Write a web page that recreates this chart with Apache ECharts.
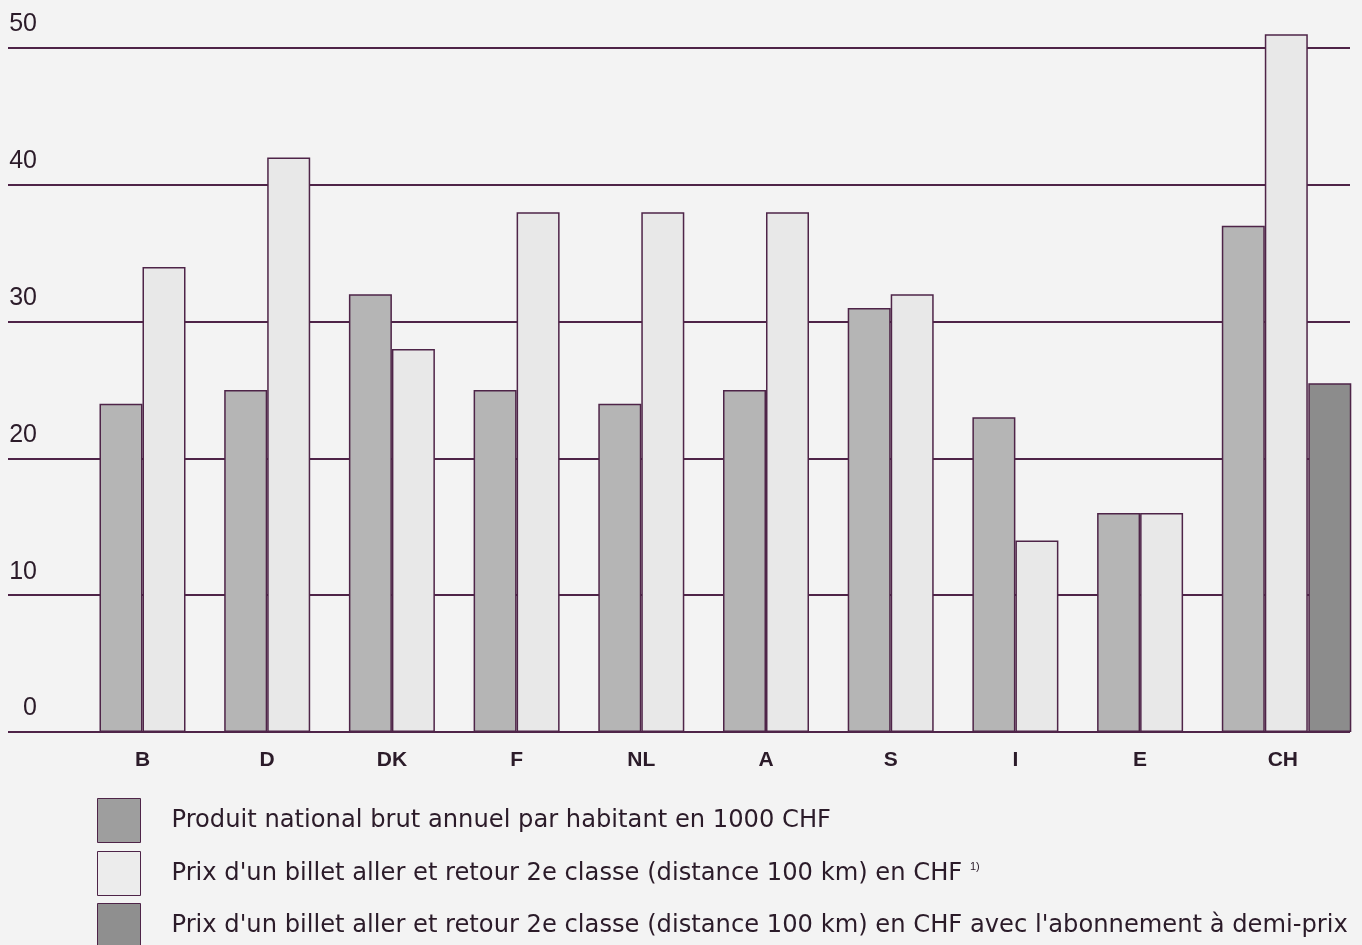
<!DOCTYPE html>
<html>
<head>
<meta charset="utf-8">
<script src="https://cdn.jsdelivr.net/npm/echarts@6/dist/echarts.min.js"></script>
<style>
  html, body { margin: 0; padding: 0; background: #f3f3f3; }
  #chart { width: 1362px; height: 945px; }
</style>
</head>
<body>
<div id="chart"></div>
<script>
// ---- data ----
var categories = ['B', 'D', 'DK', 'F', 'NL', 'A', 'S', 'I', 'E', 'CH'];
var gnpPerCapita = [24, 25, 32, 25, 24, 25, 31, 23, 16, 37];
var ticketPrice = [34, 42, 28, 38, 38, 38, 32, 14, 16, 51];
var halfFarePrice = [null, null, null, null, null, null, null, null, null, 25.5];
var emptySlot = [null, null, null, null, null, null, null, null, null, null];
var yMin = 0, yMax = 50, yStep = 10;
var seriesNames = [
  'Produit national brut annuel par habitant en 1000 CHF',
  "Prix d'un billet aller et retour 2e classe (distance 100 km) en CHF",
  "Prix d'un billet aller et retour 2e classe (distance 100 km) en CHF avec l'abonnement \u00e0 demi-prix"
];

var FONT = '"Liberation Sans", Arial, sans-serif';
var LEGEND_FONT = '"DejaVu Sans", "Liberation Sans", sans-serif';
var LINE = '#4e2448';
var TEXT = '#2b1b29';
var TOP = 48, BOTTOM = 213;
var BAND_LEFT = 80.15, BAND_W = 1247;
var BAR_W = 43;
var SHIFT = 65; // 3rd CH bar centre offset from category centre

var chart = echarts.init(document.getElementById('chart'), null, { renderer: 'canvas' });

var legendColors = ['#9e9e9e', '#ececec', '#8f8f8f'];
var legendTops = [798, 851, 903];
var legends = seriesNames.map(function (name, i) {
  return {
    orient: 'vertical', left: 97, top: legendTops[i], padding: 0,
    itemWidth: 43, itemHeight: 44, icon: 'rect',
    textStyle: {
      fontFamily: LEGEND_FONT, fontSize: 24.2, color: TEXT, padding: [0, 0, 0, 26],
      rich: { sup: { fontFamily: FONT, fontSize: 11, color: TEXT, verticalAlign: 'top', padding: [0, 0, 14, 0] } }
    },
    formatter: function (n) { return i === 1 ? n + ' {sup|1)}' : n; },
    data: [{ name: name, itemStyle: { color: legendColors[i], borderColor: LINE, borderWidth: 1 } }]
  };
});

var option = {
  backgroundColor: '#f3f3f3',
  animation: false,
  grid: [
    { left: 8, width: 1342, top: TOP, bottom: BOTTOM },
    { left: BAND_LEFT, width: BAND_W, top: TOP, bottom: BOTTOM }
  ],
  xAxis: [
    { gridIndex: 0, type: 'value', min: 0, max: 1, show: false },
    {
      gridIndex: 1, type: 'category', data: categories,
      axisLine: { show: false }, axisTick: { show: false }, splitLine: { show: false },
      axisLabel: {
        margin: 18,
        formatter: function (v) { return v === 'CH' ? '{ch|' + v + '}' : '{c|' + v + '}'; },
        rich: {
          c: { fontFamily: FONT, fontSize: 21, fontWeight: 'bold', color: TEXT },
          ch: { fontFamily: FONT, fontSize: 21, fontWeight: 'bold', color: TEXT, padding: [0, 0, 0, 36] }
        }
      }
    },
    { gridIndex: 1, type: 'category', data: categories, show: false }
  ],
  yAxis: [
    {
      gridIndex: 0, type: 'value', min: yMin, max: yMax, interval: yStep,
      axisLine: { show: false }, axisTick: { show: false },
      splitLine: { show: true, lineStyle: { color: LINE, width: 2 } },
      axisLabel: {
        inside: true, margin: 29, align: 'right', verticalAlign: 'bottom',
        padding: [0, 0, 11, 0],
        fontFamily: FONT, fontSize: 25, color: TEXT
      }
    },
    { gridIndex: 1, type: 'value', min: yMin, max: yMax, show: false }
  ],
  legend: legends,
  series: [
    {
      name: seriesNames[0], type: 'bar', xAxisIndex: 1, yAxisIndex: 1,
      data: gnpPerCapita, barWidth: BAR_W, barGap: '0%', clip: false,
      itemStyle: { color: '#b5b5b5', borderColor: LINE, borderWidth: 1.5 }
    },
    {
      name: seriesNames[1], type: 'bar', xAxisIndex: 1, yAxisIndex: 1,
      data: ticketPrice, barWidth: BAR_W, barGap: '0%', clip: false,
      itemStyle: { color: '#e8e8e8', borderColor: LINE, borderWidth: 1.5 }
    },
    {
      name: '_slot', type: 'bar', xAxisIndex: 2, yAxisIndex: 1,
      data: emptySlot, barWidth: SHIFT, barGap: '100%', silent: true,
      itemStyle: { color: 'transparent' }
    },
    {
      name: seriesNames[2], type: 'bar', xAxisIndex: 2, yAxisIndex: 1,
      data: halfFarePrice, barWidth: BAR_W, barGap: '100%', clip: false,
      itemStyle: { color: '#8c8c8c', borderColor: LINE, borderWidth: 1.5 }
    }
  ]
};
chart.setOption(option);
</script>
</body>
</html>
